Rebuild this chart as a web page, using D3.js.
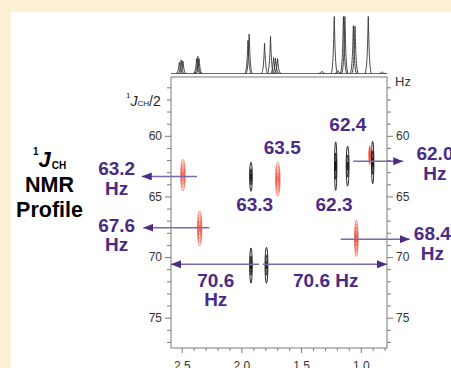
<!DOCTYPE html>
<html>
<head>
<meta charset="utf-8">
<script src="https://cdn.jsdelivr.net/npm/d3@7"></script>
<style>
  html, body { margin: 0; padding: 0; background: #fdf1d5; }
  svg { display: block; font-family: "Liberation Sans", Arial, sans-serif; }
</style>
</head>
<body>
<div id="chart"></div>
<script>
// 1D proton spectrum on top: peak positions (ppm) and relative heights
const specPpm    = [2.52, 2.505, 2.49, 2.375, 2.365, 2.355, 1.945, 1.935, 1.806, 1.756, 1.73, 1.714, 1.697, 1.325, 1.222, 1.19, 1.145, 1.133, 1.062, 1.048, 0.937, 0.82];
const specHeight = [20, 24, 22, 26, 30, 26, 58, 69, 53, 65, 28, 27, 26, 4, 100, 5, 100, 100, 84, 83, 100, 3];

// 2D contour peaks: 1H shift (ppm), 1J/2 (Hz), colour, half extent in Hz and ppm
const peakPpm    = [2.49, 2.35, 1.92, 1.695, 1.21, 1.11, 0.90, 0.925, 1.037, 1.92, 1.79];
const peakHz     = [63.24, 67.63, 63.38, 63.57, 62.5, 62.5, 62.2, 61.6, 68.46, 70.7, 70.68];
const peakColor  = ['red', 'red', 'black', 'red', 'black', 'black', 'black', 'red', 'red', 'black', 'black'];
const peakHalfHz = [1.3, 1.43, 1.2, 1.4, 2.0, 1.65, 1.75, 0.8, 1.5, 1.45, 1.48];
const peakHalfPpm = [0.019, 0.019, 0.011, 0.019, 0.01, 0.012, 0.01, 0.006, 0.015, 0.011, 0.012];

// annotation arrows: y (Hz), start and end (ppm)
const arrowHz   = [63.35, 67.58, 62.1, 68.53, 70.6, 70.6];
const arrowFrom = [2.372, 2.269, 1.062, 1.168, 1.853, 1.82];
const arrowTo   = [2.835, 2.822, 0.644, 0.589, 2.59, 0.78];

// annotation labels: text lines, centre (ppm), first baseline (Hz)
const labelLines = [['63.2', 'Hz'], ['67.6', 'Hz'], ['63.5'], ['63.3'], ['62.4'], ['62.3'], ['62.0', 'Hz'], ['68.4', 'Hz'], ['70.6', 'Hz'], ['70.6 Hz']];
const labelPpm   = [3.045, 3.045, 1.658, 1.889, 1.108, 1.224, 0.378, 0.40, 2.215, 1.293];
const labelHz    = [63.24, 67.91, 61.53, 66.21, 59.61, 66.21, 62.0, 68.6, 72.45, 72.45];

const xMajor = [2.5, 2.0, 1.5, 1.0];
const yMajor = [60, 65, 70, 75];

const width = 451;
const height = 368;
const purple = '#4b2b84';
const arrowColor = '#7a69ad';
const axisColor = '#7a7a7a';

const svg = d3.select('#chart')
  .append('svg')
  .attr('width', width)
  .attr('height', height);

// background panel
svg.append('rect').attr('width', width).attr('height', height).attr('fill', '#fdf1d5');
svg.append('rect').attr('x', 11).attr('y', 12).attr('width', width - 11).attr('height', height - 12).attr('fill', '#ffffff');

const x = d3.scaleLinear().domain([2.59, 0.78]).range([171, 387]);
const y = d3.scaleLinear().domain([55.15, 77.5]).range([77, 348]);
const h = d3.scaleLinear().domain([0, 100]).range([73.5, 16.5]);

// --- axes ---
const minorY = d3.range(56, 78).filter((v) => !yMajor.includes(v));
const minorX = d3.range(8, 26).map((v) => v / 10).filter((v) => !xMajor.includes(v));

function styleAxis(g) {
  g.select('.domain').remove();
  g.selectAll('line').attr('stroke', axisColor);
  g.selectAll('text').attr('fill', '#333').style('font-size', '12px');
}

svg.append('g').attr('transform', 'translate(171,0)')
  .call(d3.axisLeft(y).tickValues(yMajor).tickSize(6).tickPadding(3).tickFormat(d3.format('d')))
  .call(styleAxis);
svg.append('g').attr('transform', 'translate(171,0)')
  .call(d3.axisLeft(y).tickValues(minorY).tickSize(4).tickFormat(''))
  .call(styleAxis);
svg.append('g').attr('transform', 'translate(387,0)')
  .call(d3.axisRight(y).tickValues(yMajor).tickSize(6).tickPadding(3).tickFormat(d3.format('d')))
  .call(styleAxis);
svg.append('g').attr('transform', 'translate(387,0)')
  .call(d3.axisRight(y).tickValues(minorY).tickSize(4).tickFormat(''))
  .call(styleAxis);
svg.append('g').attr('transform', 'translate(0,348)')
  .call(d3.axisBottom(x).tickValues(xMajor).tickSize(5).tickPadding(8).tickFormat(d3.format('.1f')))
  .call(styleAxis);
svg.append('g').attr('transform', 'translate(0,348)')
  .call(d3.axisBottom(x).tickValues(minorX).tickSize(3).tickFormat(''))
  .call(styleAxis);

// frame
svg.append('rect')
  .attr('x', 171).attr('y', 77)
  .attr('width', 216).attr('height', 271)
  .attr('fill', 'none')
  .attr('stroke', axisColor)
  .attr('stroke-width', 1);

// axis captions
svg.append('text').attr('x', 395).attr('y', 86)
  .attr('fill', '#333').style('font-size', '13px').text('Hz');

const jLabel = svg.append('text').attr('x', 126).attr('y', 106).attr('fill', '#222').style('font-size', '14px');
jLabel.append('tspan').attr('dy', -8).style('font-size', '8px').text('1');
jLabel.append('tspan').attr('dy', 8).style('font-style', 'italic').text('J');
jLabel.append('tspan').attr('dy', 0).style('font-size', '8px').text('CH');
jLabel.append('tspan').attr('dy', 0).text('/2');

// --- 1D spectrum ---
svg.append('line')
  .attr('x1', 171).attr('x2', 387)
  .attr('y1', h(0)).attr('y2', h(0))
  .attr('stroke', '#444').attr('stroke-width', 0.8);

function peakPath(px, top, base) {
  const w = 3.5;
  return `M${px - w},${base} C${px - 1},${base} ${px - 0.6},${top + (base - top) * 0.4} ${px},${top} ` +
    `C${px + 0.6},${top + (base - top) * 0.4} ${px + 1},${base} ${px + w},${base}`;
}

svg.append('g').selectAll('path')
  .data(specPpm)
  .enter()
  .append('path')
  .attr('d', (d, i) => peakPath(x(d), h(specHeight[i]), h(0)))
  .attr('fill', 'none')
  .attr('stroke', '#333')
  .attr('stroke-width', 0.9);

// --- 2D contours ---
const contourGroup = svg.append('g');
peakPpm.forEach((p, i) => {
  const isRed = peakColor[i] === 'red';
  const levels = isRed ? [1, 0.8, 0.6, 0.4, 0.2] : [1, 0.55, 0.2];
  const rx = Math.abs(x(p + peakHalfPpm[i]) - x(p));
  const ry = Math.abs(y(peakHz[i] + peakHalfHz[i]) - y(peakHz[i]));
  levels.forEach((f) => {
    contourGroup.append('ellipse')
      .attr('cx', x(p))
      .attr('cy', y(peakHz[i]))
      .attr('rx', rx * f)
      .attr('ry', ry * f)
      .attr('fill', 'none')
      .attr('stroke', isRed ? '#f0432b' : '#111')
      .attr('stroke-width', isRed ? 0.6 : 0.9);
  });
});

// --- arrows ---
svg.append('defs').append('marker')
  .attr('id', 'arrowhead')
  .attr('markerUnits', 'userSpaceOnUse')
  .attr('markerWidth', 10)
  .attr('markerHeight', 8)
  .attr('viewBox', '0 0 10 8')
  .attr('refX', 10)
  .attr('refY', 4)
  .attr('orient', 'auto')
  .append('path')
  .attr('d', 'M0,0 L10,4 L0,8 z')
  .attr('fill', purple);

svg.append('g').selectAll('line')
  .data(arrowHz)
  .enter()
  .append('line')
  .attr('x1', (d, i) => x(arrowFrom[i]))
  .attr('x2', (d, i) => x(arrowTo[i]))
  .attr('y1', (d) => y(d))
  .attr('y2', (d) => y(d))
  .attr('stroke', arrowColor)
  .attr('stroke-width', 1.5)
  .attr('marker-end', 'url(#arrowhead)');

// --- value labels ---
labelLines.forEach((lines, i) => {
  const t = svg.append('text')
    .attr('x', x(labelPpm[i]))
    .attr('y', y(labelHz[i]))
    .attr('text-anchor', 'middle')
    .attr('fill', purple)
    .style('font-size', '19px')
    .style('font-weight', 'bold');
  lines.forEach((line, k) => {
    t.append('tspan')
      .attr('x', x(labelPpm[i]))
      .attr('dy', k === 0 ? 0 : 19.5)
      .text(line);
  });
});

// --- side title ---
const title = svg.append('g').attr('fill', '#000').style('font-weight', 'bold');
const t1 = title.append('text').attr('x', 33).attr('y', 167).style('font-size', '22px');
t1.append('tspan').attr('dy', -12).style('font-size', '10px').text('1');
t1.append('tspan').attr('dy', 12).style('font-style', 'italic').text('J');
t1.append('tspan').attr('dy', 2).attr('dx', 1).style('font-size', '10px').text('CH');
title.append('text').attr('x', 49.5).attr('y', 191.7).attr('text-anchor', 'middle')
  .style('font-size', '21.5px').text('NMR');
title.append('text').attr('x', 49.5).attr('y', 216.7).attr('text-anchor', 'middle')
  .style('font-size', '21.5px').text('Profile');
</script>
</body>
</html>
